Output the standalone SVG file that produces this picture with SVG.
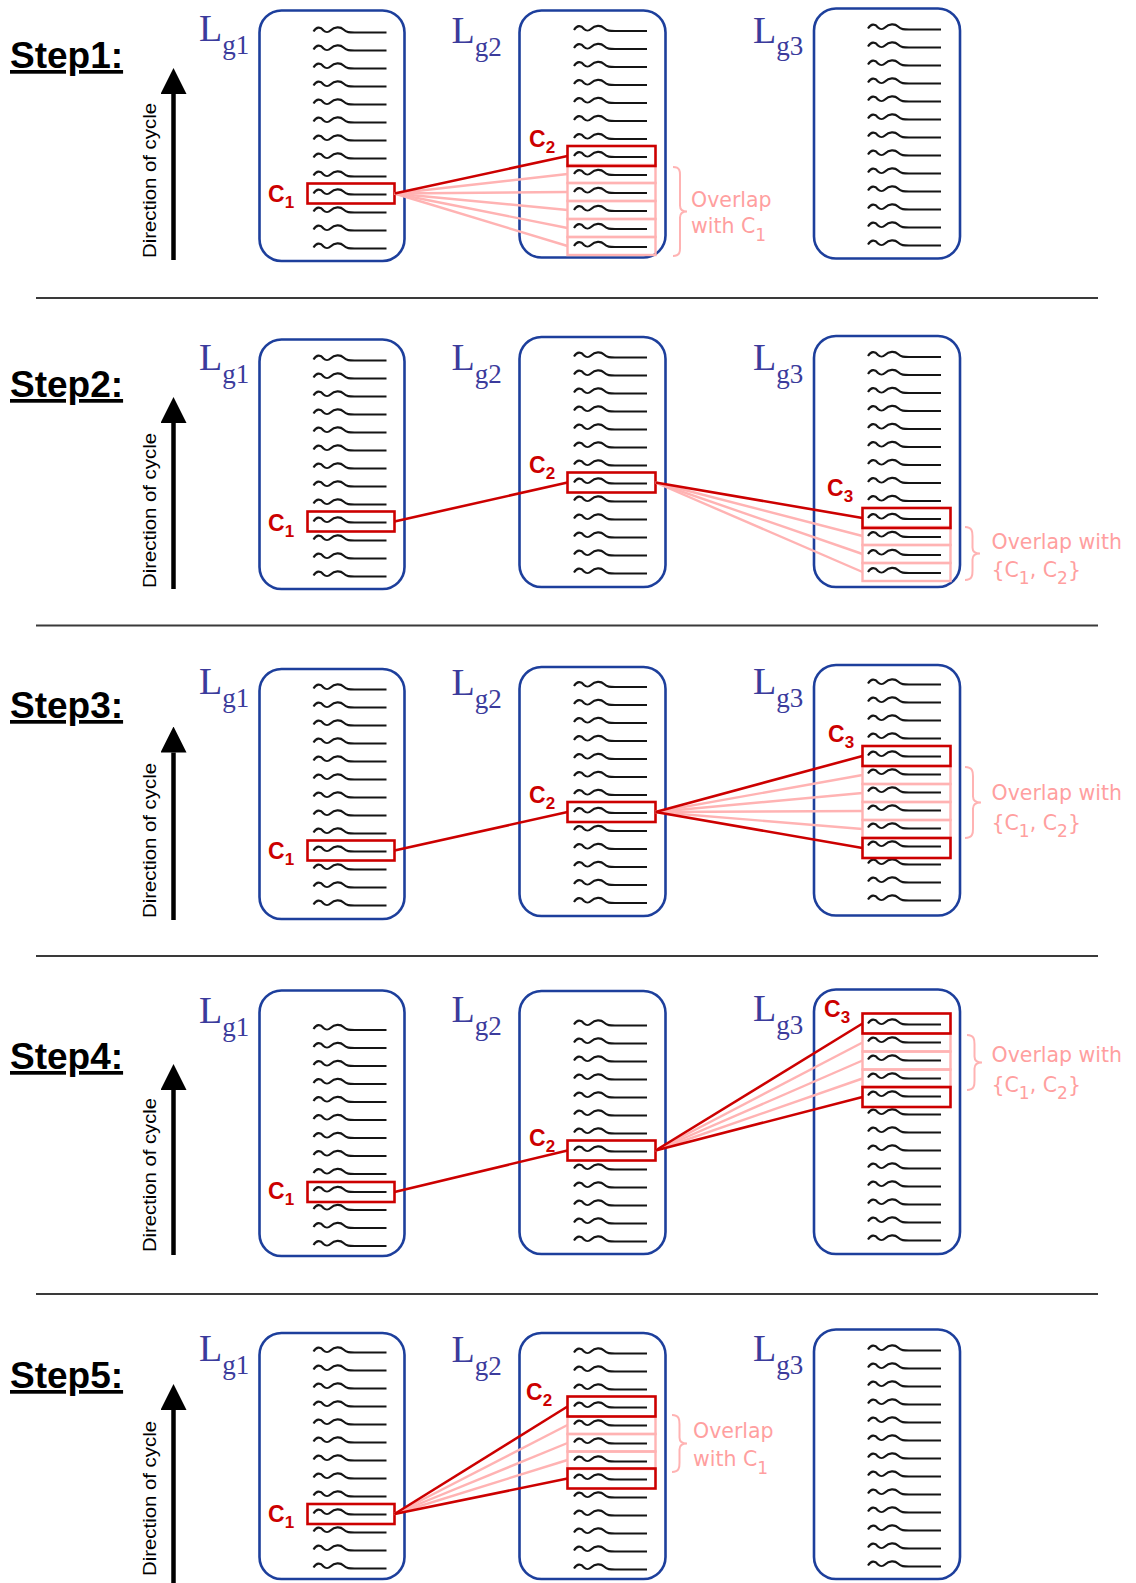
<svg xmlns="http://www.w3.org/2000/svg" xmlns:xlink="http://www.w3.org/1999/xlink" width="1136" height="1583" viewBox="0 0 1136 1583">
  <style>
    .box { fill: none; stroke: #1d3f9c; stroke-width: 2.6; }
    .lbl { font-family: "Liberation Serif", "Times New Roman", serif; fill: #3b3b9c; font-size: 38px; }
    .lsub { font-size: 27px; }
    .step { font-family: "Liberation Sans", Arial, sans-serif; font-weight: bold; font-size: 37px; fill: #000; text-decoration: underline; }
    .dir { font-family: "Liberation Sans", Arial, sans-serif; font-size: 18px; fill: #000; }
    .c { font-family: "Liberation Sans", Arial, sans-serif; font-weight: bold; font-size: 23px; fill: #cc0000; }
    .csub { font-size: 17px; }
    .hl { fill: none; stroke: #cc0000; stroke-width: 2.6; }
    .pk { fill: none; stroke: #ffb3b3; stroke-width: 2.4; }
    .ln { stroke: #cc0000; stroke-width: 2.6; fill: none; }
    .lnp { stroke: #ffb3b3; stroke-width: 2.4; fill: none; }
    .ov { font-family: "DejaVu Sans", Verdana, sans-serif; font-size: 20.5px; fill: #ff9f9f; }
    .br { fill: none; stroke: #ffb3b3; stroke-width: 2; }
    .div { stroke: #3a3a3a; stroke-width: 2; }
    .shaft { stroke: #000; stroke-width: 4.5; }
  </style>
  <defs>
    <!-- one wavy sequence glyph: two humps then a flat tail, flat part sits on y=0 -->
    <path id="sq" d="M0,0 C3,-5 7,-5 10,-1 C12,1 15,1 17,-1 C21,-5 27,-5 30,-2 C33,1 36,1 41,1 H73" fill="none" stroke="#151515" stroke-width="2.1"/>
    <!-- column of 13 sequences -->
    <g id="stack">
      <use xlink:href="#sq" y="0"/>
      <use xlink:href="#sq" y="18"/>
      <use xlink:href="#sq" y="36"/>
      <use xlink:href="#sq" y="54"/>
      <use xlink:href="#sq" y="72"/>
      <use xlink:href="#sq" y="90"/>
      <use xlink:href="#sq" y="108"/>
      <use xlink:href="#sq" y="126"/>
      <use xlink:href="#sq" y="144"/>
      <use xlink:href="#sq" y="162"/>
      <use xlink:href="#sq" y="180"/>
      <use xlink:href="#sq" y="198"/>
      <use xlink:href="#sq" y="216"/>
    </g>
    <marker id="head" viewBox="0 0 26 26" refX="0" refY="13" markerWidth="26" markerHeight="26" markerUnits="userSpaceOnUse" orient="auto">
      <path d="M0,0 L26,13 L0,26 Z" fill="#000"/>
    </marker>
  </defs>

  <rect width="1136" height="1583" fill="#fff"/>

  <!-- separators between steps -->
  <g id="separators">
    <line class="div" x1="36" y1="298" x2="1098" y2="298"/>
    <line class="div" x1="36" y1="625.5" x2="1098" y2="625.5"/>
    <line class="div" x1="36" y1="956" x2="1098" y2="956"/>
    <line class="div" x1="36" y1="1294" x2="1098" y2="1294"/>
  </g>

  <!-- ================= Step 1 ================= -->
  <g id="step1">
    <text class="step" x="10" y="68">Step1:</text>
    <g id="s1-axis">
      <line class="shaft" x1="173.5" y1="260" x2="173.5" y2="94" marker-end="url(#head)"/>
      <text class="dir" transform="translate(156,258) rotate(-90)" textLength="155" lengthAdjust="spacingAndGlyphs">Direction of cycle</text>
    </g>
    <g id="s1-lg1">
      <rect class="box" x="259.5" y="10.5" width="145" height="250.5" rx="22"/>
      <text class="lbl" x="199" y="41">L<tspan class="lsub" dy="12.5">g1</tspan></text>
      <use xlink:href="#stack" x="313.5" y="31.5"/>
      <rect class="hl" x="307.5" y="183.5" width="87" height="20"/>
      <text class="c" x="268" y="202">C<tspan class="csub" dy="6">1</tspan></text>
    </g>
    <g id="s1-lg2">
      <rect class="box" x="519.5" y="10.5" width="146" height="247" rx="22"/>
      <text class="lbl" x="451.5" y="43">L<tspan class="lsub" dy="12.5">g2</tspan></text>
      <use xlink:href="#stack" x="574" y="30"/>
      <rect class="pk" x="567.5" y="165" width="88" height="18"/>
      <rect class="pk" x="567.5" y="183" width="88" height="18"/>
      <rect class="pk" x="567.5" y="201" width="88" height="18"/>
      <rect class="pk" x="567.5" y="219" width="88" height="18"/>
      <rect class="pk" x="567.5" y="237" width="88" height="18"/>
      <rect class="hl" x="567.5" y="146" width="88" height="20"/>
      <text class="c" x="529" y="147">C<tspan class="csub" dy="6">2</tspan></text>
      <path class="br" d="M673,167 C681,167 680,173 680,177 L680,205.5 C680,209.5 682,211.5 687,211.5 C682,211.5 680,213.5 680,217.5 L680,246 C680,250 681,256 673,256"/>
      <text class="ov" x="691" y="206.5">Overlap</text>
      <text class="ov" x="691" y="232.5">with C<tspan dy="8" font-size="17">1</tspan></text>
    </g>
    <g id="s1-lg3">
      <rect class="box" x="814" y="8.5" width="146" height="250" rx="22"/>
      <text class="lbl" x="753" y="42.5">L<tspan class="lsub" dy="12.5">g3</tspan></text>
      <use xlink:href="#stack" x="868" y="28.5"/>
    </g>
    <g id="s1-links">
      <line class="lnp" x1="394.5" y1="193.5" x2="567.5" y2="174"/>
      <line class="lnp" x1="394.5" y1="193.5" x2="567.5" y2="192"/>
      <line class="lnp" x1="394.5" y1="193.5" x2="567.5" y2="210"/>
      <line class="lnp" x1="394.5" y1="193.5" x2="567.5" y2="228"/>
      <line class="lnp" x1="394.5" y1="193.5" x2="567.5" y2="246"/>
      <line class="ln" x1="394.5" y1="193.5" x2="567.5" y2="156"/>
    </g>
  </g>

  <!-- ================= Step 2 ================= -->
  <g id="step2">
    <text class="step" x="10" y="397">Step2:</text>
    <g id="s2-axis">
      <line class="shaft" x1="173.5" y1="589" x2="173.5" y2="423" marker-end="url(#head)"/>
      <text class="dir" transform="translate(156,588) rotate(-90)" textLength="155" lengthAdjust="spacingAndGlyphs">Direction of cycle</text>
    </g>
    <g id="s2-lg1">
      <rect class="box" x="259.5" y="339.5" width="145" height="249.5" rx="22"/>
      <text class="lbl" x="199" y="370">L<tspan class="lsub" dy="12.5">g1</tspan></text>
      <use xlink:href="#stack" x="313.5" y="359.5"/>
      <rect class="hl" x="307.5" y="511.5" width="87" height="20"/>
      <text class="c" x="268" y="530.5">C<tspan class="csub" dy="6">1</tspan></text>
    </g>
    <g id="s2-lg2">
      <rect class="box" x="519.5" y="337" width="146" height="250" rx="22"/>
      <text class="lbl" x="451.5" y="370">L<tspan class="lsub" dy="12.5">g2</tspan></text>
      <use xlink:href="#stack" x="574" y="356.5"/>
      <rect class="hl" x="567.5" y="472.5" width="88" height="20"/>
      <text class="c" x="529" y="472.5">C<tspan class="csub" dy="6">2</tspan></text>
    </g>
    <g id="s2-lg3">
      <rect class="box" x="814" y="336" width="146" height="251" rx="22"/>
      <text class="lbl" x="753" y="370">L<tspan class="lsub" dy="12.5">g3</tspan></text>
      <use xlink:href="#stack" x="868" y="356"/>
      <rect class="pk" x="862.5" y="527" width="88" height="18"/>
      <rect class="pk" x="862.5" y="545" width="88" height="18"/>
      <rect class="pk" x="862.5" y="563" width="88" height="18"/>
      <rect class="hl" x="862.5" y="508" width="88" height="20"/>
      <text class="c" x="827" y="496">C<tspan class="csub" dy="6">3</tspan></text>
      <path class="br" d="M965,527 C973,527 972.5,533 972.5,537 L972.5,547.5 C972.5,551.5 975,553.5 980,553.5 C975,553.5 972.5,555.5 972.5,559.5 L972.5,570 C972.5,574 973,580 965,580"/>
      <text class="ov" x="991.5" y="548.5">Overlap with</text>
      <text class="ov" x="991.5" y="576.5">{C<tspan dy="7" font-size="17">1</tspan><tspan dy="-7">, C</tspan><tspan dy="7" font-size="17">2</tspan><tspan dy="-7">}</tspan></text>
    </g>
    <g id="s2-links">
      <line class="ln" x1="394.5" y1="521.5" x2="567.5" y2="482.5"/>
      <line class="lnp" x1="655.5" y1="482.5" x2="862.5" y2="536"/>
      <line class="lnp" x1="655.5" y1="482.5" x2="862.5" y2="554"/>
      <line class="lnp" x1="655.5" y1="482.5" x2="862.5" y2="572"/>
      <line class="ln" x1="655.5" y1="482.5" x2="862.5" y2="518"/>
    </g>
  </g>

  <!-- ================= Step 3 ================= -->
  <g id="step3">
    <text class="step" x="10" y="718">Step3:</text>
    <g id="s3-axis">
      <line class="shaft" x1="173.5" y1="920" x2="173.5" y2="752.5" marker-end="url(#head)"/>
      <text class="dir" transform="translate(156,918) rotate(-90)" textLength="155" lengthAdjust="spacingAndGlyphs">Direction of cycle</text>
    </g>
    <g id="s3-lg1">
      <rect class="box" x="259.5" y="669" width="145" height="250" rx="22"/>
      <text class="lbl" x="199" y="694">L<tspan class="lsub" dy="12.5">g1</tspan></text>
      <use xlink:href="#stack" x="313.5" y="688.5"/>
      <rect class="hl" x="307.5" y="840.5" width="87" height="20"/>
      <text class="c" x="268" y="859">C<tspan class="csub" dy="6">1</tspan></text>
    </g>
    <g id="s3-lg2">
      <rect class="box" x="519.5" y="667" width="146" height="249" rx="22"/>
      <text class="lbl" x="451.5" y="695">L<tspan class="lsub" dy="12.5">g2</tspan></text>
      <use xlink:href="#stack" x="574" y="686"/>
      <rect class="hl" x="567.5" y="802" width="88" height="20"/>
      <text class="c" x="529" y="803">C<tspan class="csub" dy="6">2</tspan></text>
    </g>
    <g id="s3-lg3">
      <rect class="box" x="814" y="665" width="146" height="250.5" rx="22"/>
      <text class="lbl" x="753" y="694">L<tspan class="lsub" dy="12.5">g3</tspan></text>
      <use xlink:href="#stack" x="868" y="683.5"/>
      <rect class="pk" x="862.5" y="766" width="88" height="18"/>
      <rect class="pk" x="862.5" y="784" width="88" height="18"/>
      <rect class="pk" x="862.5" y="802" width="88" height="18"/>
      <rect class="pk" x="862.5" y="820" width="88" height="18"/>
      <rect class="hl" x="862.5" y="746" width="88" height="20"/>
      <rect class="hl" x="862.5" y="838" width="88" height="20"/>
      <text class="c" x="828" y="742">C<tspan class="csub" dy="6">3</tspan></text>
      <path class="br" d="M965,767 C973.5,767 973,773 973,777 L973,796.5 C973,800.5 975.5,802.5 981,802.5 C975.5,802.5 973,804.5 973,808.5 L973,828 C973,832 973.5,838 965,838"/>
      <text class="ov" x="991.5" y="800">Overlap with</text>
      <text class="ov" x="991.5" y="830">{C<tspan dy="7" font-size="17">1</tspan><tspan dy="-7">, C</tspan><tspan dy="7" font-size="17">2</tspan><tspan dy="-7">}</tspan></text>
    </g>
    <g id="s3-links">
      <line class="ln" x1="394.5" y1="850.5" x2="567.5" y2="812"/>
      <line class="lnp" x1="655.5" y1="812" x2="862.5" y2="775"/>
      <line class="lnp" x1="655.5" y1="812" x2="862.5" y2="793"/>
      <line class="lnp" x1="655.5" y1="812" x2="862.5" y2="811"/>
      <line class="lnp" x1="655.5" y1="812" x2="862.5" y2="829"/>
      <line class="ln" x1="655.5" y1="812" x2="862.5" y2="756"/>
      <line class="ln" x1="655.5" y1="812" x2="862.5" y2="848"/>
    </g>
  </g>

  <!-- ================= Step 4 ================= -->
  <g id="step4">
    <text class="step" x="10" y="1069">Step4:</text>
    <g id="s4-axis">
      <line class="shaft" x1="173.5" y1="1255" x2="173.5" y2="1090" marker-end="url(#head)"/>
      <text class="dir" transform="translate(156,1252) rotate(-90)" textLength="154" lengthAdjust="spacingAndGlyphs">Direction of cycle</text>
    </g>
    <g id="s4-lg1">
      <rect class="box" x="259.5" y="990.5" width="145" height="265.5" rx="22"/>
      <text class="lbl" x="199" y="1023">L<tspan class="lsub" dy="12.5">g1</tspan></text>
      <use xlink:href="#stack" x="313.5" y="1029"/>
      <rect class="hl" x="307.5" y="1182" width="87" height="20"/>
      <text class="c" x="268" y="1199">C<tspan class="csub" dy="6">1</tspan></text>
    </g>
    <g id="s4-lg2">
      <rect class="box" x="519.5" y="991" width="146" height="263" rx="22"/>
      <text class="lbl" x="451.5" y="1022">L<tspan class="lsub" dy="12.5">g2</tspan></text>
      <use xlink:href="#stack" x="574" y="1024.5"/>
      <rect class="hl" x="567.5" y="1140.5" width="88" height="20"/>
      <text class="c" x="529" y="1146">C<tspan class="csub" dy="6">2</tspan></text>
    </g>
    <g id="s4-lg3">
      <rect class="box" x="814" y="989.5" width="146" height="264.5" rx="22"/>
      <text class="lbl" x="753" y="1021">L<tspan class="lsub" dy="12.5">g3</tspan></text>
      <use xlink:href="#stack" x="868" y="1023.5"/>
      <rect class="pk" x="862.5" y="1033.5" width="88" height="18"/>
      <rect class="pk" x="862.5" y="1051.5" width="88" height="18"/>
      <rect class="pk" x="862.5" y="1069.5" width="88" height="18"/>
      <rect class="hl" x="862.5" y="1013.5" width="88" height="20"/>
      <rect class="hl" x="862.5" y="1087" width="88" height="20"/>
      <text class="c" x="824" y="1017">C<tspan class="csub" dy="6">3</tspan></text>
      <path class="br" d="M967,1035 C975,1035 974.5,1041 974.5,1045 L974.5,1056.5 C974.5,1060.5 977,1062.5 982,1062.5 C977,1062.5 974.5,1064.5 974.5,1068.5 L974.5,1080 C974.5,1084 975,1090 967,1090"/>
      <text class="ov" x="991.5" y="1061.5">Overlap with</text>
      <text class="ov" x="991.5" y="1091.5">{C<tspan dy="7" font-size="17">1</tspan><tspan dy="-7">, C</tspan><tspan dy="7" font-size="17">2</tspan><tspan dy="-7">}</tspan></text>
    </g>
    <g id="s4-links">
      <line class="ln" x1="394.5" y1="1192" x2="567.5" y2="1150.5"/>
      <line class="lnp" x1="655.5" y1="1150.5" x2="862.5" y2="1042.5"/>
      <line class="lnp" x1="655.5" y1="1150.5" x2="862.5" y2="1060.5"/>
      <line class="lnp" x1="655.5" y1="1150.5" x2="862.5" y2="1078.5"/>
      <line class="ln" x1="655.5" y1="1150.5" x2="862.5" y2="1023.5"/>
      <line class="ln" x1="655.5" y1="1150.5" x2="862.5" y2="1097"/>
    </g>
  </g>

  <!-- ================= Step 5 ================= -->
  <g id="step5">
    <text class="step" x="10" y="1388">Step5:</text>
    <g id="s5-axis">
      <line class="shaft" x1="173.5" y1="1583" x2="173.5" y2="1410" marker-end="url(#head)"/>
      <text class="dir" transform="translate(156,1576) rotate(-90)" textLength="155" lengthAdjust="spacingAndGlyphs">Direction of cycle</text>
    </g>
    <g id="s5-lg1">
      <rect class="box" x="259.5" y="1333" width="145" height="246" rx="22"/>
      <text class="lbl" x="199" y="1361">L<tspan class="lsub" dy="12.5">g1</tspan></text>
      <use xlink:href="#stack" x="313.5" y="1351.5"/>
      <rect class="hl" x="307.5" y="1504" width="87" height="20"/>
      <text class="c" x="268" y="1522">C<tspan class="csub" dy="6">1</tspan></text>
    </g>
    <g id="s5-lg2">
      <rect class="box" x="519.5" y="1333" width="146" height="246" rx="22"/>
      <text class="lbl" x="451.5" y="1362">L<tspan class="lsub" dy="12.5">g2</tspan></text>
      <use xlink:href="#stack" x="574" y="1352.5"/>
      <rect class="pk" x="567.5" y="1416.5" width="88" height="17.5"/>
      <rect class="pk" x="567.5" y="1434" width="88" height="17.5"/>
      <rect class="pk" x="567.5" y="1451.5" width="88" height="17.5"/>
      <rect class="hl" x="567.5" y="1396.5" width="88" height="20"/>
      <rect class="hl" x="567.5" y="1468.5" width="88" height="20"/>
      <text class="c" x="526" y="1400">C<tspan class="csub" dy="6">2</tspan></text>
      <path class="br" d="M672,1415 C680,1415 679.5,1421 679.5,1425 L679.5,1437.5 C679.5,1441.5 682,1443.5 687,1443.5 C682,1443.5 679.5,1445.5 679.5,1449.5 L679.5,1462 C679.5,1466 680,1472 672,1472"/>
      <text class="ov" x="693" y="1437.5">Overlap</text>
      <text class="ov" x="693" y="1466">with C<tspan dy="8" font-size="17">1</tspan></text>
    </g>
    <g id="s5-lg3">
      <rect class="box" x="814" y="1329.5" width="146" height="249.5" rx="22"/>
      <text class="lbl" x="753" y="1361">L<tspan class="lsub" dy="12.5">g3</tspan></text>
      <use xlink:href="#stack" x="868" y="1349.5"/>
    </g>
    <g id="s5-links">
      <line class="lnp" x1="394.5" y1="1514" x2="567.5" y2="1425"/>
      <line class="lnp" x1="394.5" y1="1514" x2="567.5" y2="1443"/>
      <line class="lnp" x1="394.5" y1="1514" x2="567.5" y2="1460"/>
      <line class="ln" x1="394.5" y1="1514" x2="567.5" y2="1406.5"/>
      <line class="ln" x1="394.5" y1="1514" x2="567.5" y2="1478.5"/>
    </g>
  </g>
</svg>
